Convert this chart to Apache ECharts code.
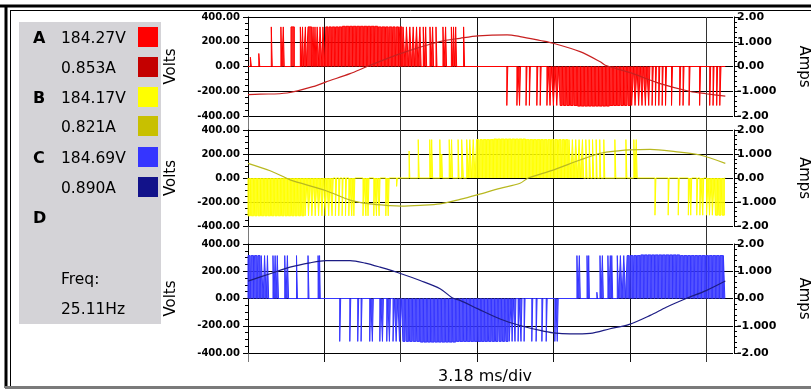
<!DOCTYPE html>
<html>
<head>
<meta charset="utf-8">
<script src="https://cdn.jsdelivr.net/npm/echarts@6/dist/echarts.min.js"></script>
<style>
  html, body { margin: 0; padding: 0; background: #fff; }
  #scope { width: 811px; height: 390px; }
</style>
</head>
<body>
<div id="scope"></div>
<script>
  // time axis in ms, one division = 3.18 ms
  const msPerDiv = 3.18;
  const timeMax = 20.2;
  const traceEnd = 19.88;

  const voltTicks = [-400, -200, 0, 200, 400];
  const voltTickLabels = ['-400.00', '-200.00', '0.00', '200.00', '400.00'];
  const ampTicks = [-2, -1, 0, 1, 2];
  const ampTickLabels = ['-2.00', '-1.000', '0.00', '1.000', '2.00'];

  const phaseNames = ['A', 'B', 'C', 'D'];
  const voltReadings = ['184.27V', '184.17V', '184.69V'];
  const ampReadings = ['0.853A', '0.821A', '0.890A'];
  const freqLabel = 'Freq:';
  const freqReading = '25.11Hz';
  const timebaseLabel = '3.18 ms/div';

  const voltColors = ['#ff0000', '#ffff00', '#3535ff'];
  const ampColors = ['#c40000', '#c8c000', '#12128a'];
  const ampTraceColors = ['#c82020', '#b8b820', '#1c1c84'];

  // pwm pulses: [on ms, off ms, volts]
  const pulsesA = [
    [0.10, 0.14, 75], [0.45, 0.49, 105], [0.97, 1.01, 320], [1.37, 1.41, 320], [1.47, 1.51, 320],
    [1.79, 1.93, 320], [2.18, 2.22, 320], [2.27, 2.31, 320], [2.39, 2.43, 320], [2.50, 2.65, 320],
    [2.71, 2.75, 320], [2.79, 2.83, 320], [2.88, 2.95, 320], [3.00, 3.08, 320], [3.12, 3.20, 320],
    [3.24, 3.33, 320], [3.37, 3.47, 320], [3.51, 3.61, 320], [3.65, 3.76, 320], [3.79, 3.90, 320],
    [3.93, 4.05, 325], [4.08, 4.20, 325], [4.23, 4.35, 325], [4.38, 4.50, 325], [4.53, 4.65, 325],
    [4.68, 4.80, 325], [4.83, 4.95, 325], [4.98, 5.10, 325], [5.13, 5.25, 325], [5.28, 5.40, 325],
    [5.43, 5.55, 320], [5.58, 5.70, 320], [5.73, 5.84, 320], [5.88, 5.99, 320], [6.03, 6.13, 320],
    [6.18, 6.27, 320], [6.32, 6.41, 320], [6.46, 6.54, 320], [6.60, 6.68, 320], [6.74, 6.81, 320],
    [6.88, 6.94, 320], [7.02, 7.08, 320], [7.16, 7.21, 320], [7.30, 7.34, 320], [7.40, 7.44, 320],
    [7.58, 7.62, 320], [7.69, 7.73, 320], [7.83, 7.87, 320], [8.12, 8.16, 320], [8.23, 8.27, 320],
    [8.47, 8.51, 320], [8.56, 8.60, 320], [8.65, 8.69, 320], [8.98, 9.02, 320],
    [10.78, 10.82, -315], [11.20, 11.24, -315], [11.31, 11.35, -315], [11.58, 11.62, -315],
    [11.72, 11.76, -315], [12.03, 12.07, -315], [12.17, 12.21, -315], [12.45, 12.50, -315],
    [12.58, 12.64, -315], [12.72, 12.79, -315], [12.86, 12.94, -315], [13.00, 13.09, -315],
    [13.14, 13.24, -315], [13.28, 13.39, -315], [13.43, 13.54, -315], [13.58, 13.70, -315],
    [13.73, 13.85, -320], [13.88, 14.00, -320], [14.03, 14.15, -320], [14.18, 14.30, -320],
    [14.33, 14.45, -320], [14.48, 14.60, -320], [14.63, 14.75, -320], [14.78, 14.90, -320],
    [14.93, 15.05, -320], [15.08, 15.20, -315], [15.23, 15.35, -315], [15.38, 15.49, -315],
    [15.53, 15.64, -315], [15.68, 15.78, -315], [15.83, 15.92, -315], [15.98, 16.06, -315],
    [16.12, 16.20, -315], [16.27, 16.34, -315], [16.41, 16.47, -315], [16.55, 16.61, -315],
    [16.69, 16.74, -315], [16.83, 16.88, -315], [16.97, 17.01, -315], [17.11, 17.15, -315],
    [17.25, 17.29, -315], [17.39, 17.43, -315], [17.64, 17.68, -315], [17.98, 18.02, -315],
    [18.12, 18.16, -315], [18.37, 18.41, -315], [18.81, 18.85, -315], [19.23, 19.27, -315],
    [19.37, 19.41, -315], [19.52, 19.56, -315], [19.65, 19.70, -315]
  ];

  const pulsesB = [
    [0.00, 0.10, -315], [0.14, 0.24, -315], [0.28, 0.38, -315], [0.42, 0.52, -315], [0.56, 0.66, -315],
    [0.70, 0.80, -315], [0.84, 0.94, -315], [0.98, 1.08, -315], [1.12, 1.22, -315], [1.26, 1.36, -315],
    [1.40, 1.50, -315], [1.54, 1.64, -315], [1.68, 1.78, -315], [1.82, 1.92, -315], [1.96, 2.05, -315],
    [2.10, 2.19, -315], [2.24, 2.33, -315], [2.38, 2.46, -315], [2.52, 2.60, -315], [2.66, 2.74, -315],
    [2.80, 2.87, -315], [2.94, 3.01, -315], [3.08, 3.14, -315], [3.22, 3.28, -315], [3.36, 3.42, -315],
    [3.50, 3.55, -315], [3.64, 3.69, -315], [3.78, 3.83, -315], [3.92, 3.96, -315], [4.06, 4.10, -315],
    [4.20, 4.24, -315], [4.32, 4.37, -315], [4.41, 4.45, -315], [4.79, 4.83, -315], [4.91, 4.95, -315],
    [5.00, 5.04, -315], [5.24, 5.28, -315], [5.35, 5.39, -315], [5.46, 5.50, -315], [5.74, 5.78, -315],
    [5.84, 5.88, -315], [6.19, 6.22, -70],
    [6.71, 6.74, 225], [7.09, 7.13, 320], [7.57, 7.61, 320], [7.65, 7.69, 320], [7.99, 8.03, 320],
    [8.07, 8.10, 200], [8.38, 8.42, 320], [8.48, 8.52, 320], [8.75, 8.79, 320], [8.90, 8.97, 320],
    [9.11, 9.17, 320], [9.24, 9.31, 320], [9.38, 9.46, 320], [9.52, 9.61, 320], [9.66, 9.76, 320],
    [9.80, 9.91, 320], [9.94, 10.06, 320], [10.09, 10.21, 320], [10.24, 10.36, 325], [10.39, 10.51, 325],
    [10.54, 10.66, 325], [10.69, 10.81, 325], [10.84, 10.96, 325], [10.99, 11.11, 325], [11.14, 11.26, 325],
    [11.29, 11.41, 325], [11.44, 11.56, 325], [11.59, 11.71, 320], [11.74, 11.86, 320], [11.89, 12.01, 320],
    [12.04, 12.16, 320], [12.19, 12.30, 320], [12.34, 12.45, 320], [12.49, 12.60, 320], [12.64, 12.75, 320],
    [12.79, 12.89, 320], [12.94, 13.04, 320], [13.09, 13.18, 320], [13.23, 13.32, 320], [13.37, 13.45, 320],
    [13.51, 13.58, 320], [13.65, 13.72, 320], [13.79, 13.85, 320], [13.93, 13.98, 320], [14.07, 14.12, 320],
    [14.21, 14.26, 320], [14.35, 14.40, 320], [14.50, 14.54, 320], [14.65, 14.69, 320], [14.82, 14.86, 320],
    [15.28, 15.32, 320], [15.74, 15.78, 320], [16.07, 16.11, 320], [16.17, 16.21, 320],
    [16.95, 16.99, -310], [17.50, 17.54, -310], [17.92, 17.96, -310], [18.34, 18.38, -310],
    [18.44, 18.48, -310], [18.69, 18.73, -310], [18.82, 18.86, -310], [18.94, 18.98, -310],
    [19.10, 19.16, -310], [19.22, 19.29, -310], [19.34, 19.42, -310], [19.47, 19.56, -310],
    [19.61, 19.70, -310], [19.75, 19.84, -310]
  ];

  const pulsesC = [
    [0.00, 0.09, 315], [0.13, 0.23, 315], [0.27, 0.37, 315], [0.41, 0.50, 315], [0.55, 0.63, 315],
    [0.69, 0.76, 315], [0.81, 0.86, 315], [1.04, 1.08, 315], [1.13, 1.17, 315], [1.22, 1.27, 315],
    [1.53, 1.58, 315], [1.64, 1.69, 315], [2.02, 2.06, 315], [2.50, 2.54, 315], [2.92, 2.96, 315],
    [2.98, 3.01, 315],
    [3.82, 3.86, -315], [4.24, 4.28, -315], [4.57, 4.61, -315], [4.71, 4.75, -315], [5.07, 5.11, -315],
    [5.18, 5.22, -315], [5.49, 5.53, -315], [5.60, 5.64, -315], [5.78, 5.82, -315], [5.89, 5.93, -315],
    [6.04, 6.10, -315], [6.17, 6.24, -315], [6.31, 6.39, -315], [6.45, 6.54, -315], [6.59, 6.69, -315],
    [6.73, 6.84, -315], [6.88, 6.99, -315], [7.03, 7.15, -315], [7.18, 7.30, -320], [7.33, 7.45, -320],
    [7.48, 7.60, -320], [7.63, 7.75, -320], [7.78, 7.90, -320], [7.93, 8.05, -320], [8.08, 8.20, -320],
    [8.23, 8.35, -320], [8.38, 8.50, -320], [8.53, 8.65, -320], [8.68, 8.80, -315], [8.83, 8.95, -315],
    [8.98, 9.10, -315], [9.13, 9.25, -315], [9.28, 9.40, -315], [9.43, 9.55, -315], [9.58, 9.70, -315],
    [9.72, 9.84, -315], [9.87, 9.98, -315], [10.02, 10.13, -315], [10.17, 10.27, -315], [10.31, 10.41, -315],
    [10.46, 10.55, -315], [10.60, 10.69, -315], [10.74, 10.83, -315], [10.88, 10.96, -315], [11.00, 11.05, -315],
    [11.12, 11.16, -315], [11.25, 11.29, -315], [11.37, 11.41, -315], [11.50, 11.54, -315], [11.82, 11.86, -315],
    [12.00, 12.04, -315], [12.24, 12.28, -315], [12.42, 12.46, -315], [12.78, 12.82, -315], [12.88, 12.92, -315],
    [13.70, 13.74, 315], [13.80, 13.84, 315], [14.12, 14.16, 315], [14.19, 14.22, 315], [14.53, 14.56, 46],
    [14.66, 14.70, 315], [14.76, 14.80, 315], [14.99, 15.03, 315], [15.09, 15.13, 315], [15.15, 15.19, 315],
    [15.38, 15.44, 315], [15.51, 15.58, 315], [15.65, 15.73, 315], [15.79, 15.88, 315], [15.93, 16.03, 315],
    [16.07, 16.18, 315], [16.21, 16.33, 315], [16.36, 16.48, 320], [16.51, 16.63, 320], [16.66, 16.78, 320],
    [16.81, 16.93, 320], [16.96, 17.08, 320], [17.11, 17.23, 320], [17.26, 17.38, 320], [17.41, 17.53, 320],
    [17.56, 17.68, 320], [17.71, 17.83, 320], [17.86, 17.98, 320], [18.01, 18.13, 315], [18.16, 18.28, 315],
    [18.31, 18.43, 315], [18.46, 18.58, 315], [18.61, 18.73, 315], [18.76, 18.88, 315], [18.91, 19.03, 315],
    [19.06, 19.18, 315], [19.21, 19.33, 315], [19.36, 19.48, 315], [19.51, 19.63, 315], [19.66, 19.78, 315],
    [19.80, 19.86, 315]
  ];

  // phase currents [ms, A]
  const currentA = [
    [0.00, -1.14], [0.50, -1.12], [1.63, -1.07], [2.79, -0.79], [3.25, -0.62], [4.25, -0.29],
    [4.96, 0.00], [6.38, 0.53], [8.00, 1.01], [8.83, 1.14], [9.58, 1.24], [10.79, 1.28],
    [11.33, 1.21], [12.17, 1.05], [12.71, 0.94], [13.83, 0.60], [14.67, 0.19], [14.88, 0.05],
    [15.88, -0.24], [17.17, -0.69], [18.42, -1.01], [19.08, -1.10], [19.88, -1.20]
  ];
  const currentB = [
    [0.00, 0.61], [0.92, 0.30], [1.46, 0.06], [1.75, -0.08], [3.25, -0.53], [4.25, -0.92],
    [5.08, -1.08], [5.92, -1.15], [6.38, -1.17], [7.17, -1.14], [8.00, -1.08], [8.83, -0.89],
    [9.58, -0.69], [10.50, -0.43], [11.33, -0.22], [11.67, 0.00], [12.71, 0.33], [13.83, 0.75],
    [14.67, 1.03], [15.50, 1.14], [15.88, 1.17], [16.75, 1.19], [17.79, 1.10], [18.83, 0.96],
    [19.88, 0.61]
  ];
  const currentC = [
    [0.00, 0.64], [0.92, 0.91], [1.75, 1.15], [2.58, 1.31], [3.25, 1.39], [4.25, 1.39],
    [4.88, 1.30], [5.50, 1.15], [6.38, 0.91], [7.17, 0.66], [8.00, 0.36], [8.50, 0.03],
    [8.83, -0.07], [9.58, -0.38], [10.50, -0.75], [11.33, -0.99], [12.17, -1.17], [12.71, -1.26],
    [13.42, -1.30], [14.25, -1.28], [15.08, -1.11], [15.88, -0.95], [16.75, -0.62], [17.42, -0.32],
    [18.25, 0.00], [19.08, 0.29], [19.88, 0.64]
  ];

  const panels = [
    { pulses: pulsesA, current: currentA, top: 17, height: 99 },
    { pulses: pulsesB, current: currentB, top: 130, height: 96 },
    { pulses: pulsesC, current: currentC, top: 244, height: 109 }
  ];

  function pulseTrace(pulses) {
    const pts = [[0, 0]];
    pulses.forEach(function (p) {
      pts.push([p[0], 0], [p[0], p[2]], [p[1], p[2]], [p[1], 0]);
    });
    pts.push([traceEnd, 0]);
    return pts;
  }

  const font = '"DejaVu Sans", Verdana, sans-serif';

  let grids = [{ left: 248, top: 17, width: 485, height: 345, outerBoundsMode: 'none' }];
  let xAxes = [{
    type: 'value', gridIndex: 0, min: 0, max: timeMax, interval: msPerDiv,
    axisLine: { show: false }, axisTick: { show: false }, axisLabel: { show: false },
    splitLine: {
      show: true,
      lineStyle: { width: 1, color: ['#7a7a7a', '#111', '#333', '#111', '#111', '#111', '#333', 'rgba(0,0,0,0)'] }
    }
  }];
  let yAxes = [{ type: 'value', gridIndex: 0, min: 0, max: 1, show: false }];
  let series = [];

  panels.forEach(function (p, i) {
    grids.push({ left: 248, top: p.top, width: 485, height: p.height, outerBoundsMode: 'none' });
    xAxes.push({ type: 'value', gridIndex: i + 1, min: 0, max: timeMax, interval: msPerDiv, show: false });
    yAxes.push({
      type: 'value', gridIndex: i + 1, position: 'left', offset: 5,
      min: voltTicks[0], max: voltTicks[voltTicks.length - 1], interval: 200,
      name: 'Volts', nameLocation: 'middle', nameRotate: 90, nameGap: 64,
      nameTextStyle: { fontFamily: font, fontSize: 15, color: '#000' },
      axisLine: { show: true, lineStyle: { color: '#000', width: 1 } },
      axisTick: { show: true, length: 5, lineStyle: { color: '#000' } },
      minorTick: { show: true, splitNumber: 4, length: 3, lineStyle: { color: '#000' } },
      axisLabel: {
        margin: 3, color: '#000', fontFamily: font, fontSize: 10, fontWeight: 'bold',
        formatter: function (v) { return voltTickLabels[voltTicks.indexOf(v)]; }
      },
      splitLine: { show: true, lineStyle: { color: '#000', width: 1 } }
    });
    yAxes.push({
      type: 'value', gridIndex: i + 1, position: 'right', offset: 1,
      min: ampTicks[0], max: ampTicks[ampTicks.length - 1], interval: 1,
      name: 'Amps', nameLocation: 'middle', nameRotate: -90, nameGap: 62,
      nameTextStyle: { fontFamily: font, fontSize: 15, color: '#000' },
      axisLine: { show: true, lineStyle: { color: '#000', width: 1 } },
      axisTick: { show: true, length: 5, lineStyle: { color: '#000' } },
      minorTick: { show: true, splitNumber: 5, length: 3, lineStyle: { color: '#000' } },
      axisLabel: {
        margin: 3, color: '#000', fontFamily: font, fontSize: 11, fontWeight: 'bold',
        formatter: function (v) { return ampTickLabels[ampTicks.indexOf(v)]; }
      },
      splitLine: { show: false }
    });
    series.push({
      type: 'line', xAxisIndex: i + 1, yAxisIndex: 2 * i + 1,
      data: pulseTrace(p.pulses), showSymbol: false, clip: true,
      lineStyle: { color: voltColors[i], width: 1 },
      areaStyle: { color: voltColors[i], opacity: 0.85 }, z: 2
    });
    series.push({
      type: 'line', xAxisIndex: i + 1, yAxisIndex: 2 * i + 2,
      data: p.current, showSymbol: false, smooth: 0.3, clip: true,
      lineStyle: { color: ampTraceColors[i], width: 1.2 }, z: 3
    });
  });

  // reading panel on the left and the frame
  let graphics = [
    { type: 'line', shape: { x1: 0, y1: 6, x2: 811, y2: 6 }, style: { stroke: '#000', lineWidth: 3 } },
    { type: 'line', shape: { x1: 6, y1: 5, x2: 6, y2: 388 }, style: { stroke: '#000', lineWidth: 3 } },
    { type: 'line', shape: { x1: 10, y1: 10.5, x2: 811, y2: 10.5 }, style: { stroke: '#000', lineWidth: 1 } },
    { type: 'line', shape: { x1: 10.5, y1: 10, x2: 10.5, y2: 386 }, style: { stroke: '#000', lineWidth: 1 } },
    { type: 'line', shape: { x1: 5, y1: 387.5, x2: 811, y2: 387.5 }, style: { stroke: '#7a7a7a', lineWidth: 3 } },
    { type: 'rect', shape: { x: 19, y: 22, width: 142, height: 302 }, style: { fill: '#d4d3d7' } }
  ];

  function addText(txt, x, y, f, align) {
    graphics.push({
      type: 'text', x: x, y: y,
      style: {
        text: txt, font: f, fill: '#000',
        align: align || 'left', textAlign: align || 'left',
        verticalAlign: 'middle', textVerticalAlign: 'middle'
      }
    });
  }

  const rowY = [39, 69, 99, 128, 159, 189];
  const bold16 = 'bold 16px ' + font;
  const reg15 = '15.5px ' + font;
  for (let k = 0; k < 3; k++) {
    addText(phaseNames[k], 33, rowY[2 * k], bold16);
    addText(voltReadings[k], 61, rowY[2 * k], reg15);
    addText(ampReadings[k], 61, rowY[2 * k + 1], reg15);
    graphics.push({ type: 'rect', shape: { x: 138, y: rowY[2 * k] - 12, width: 20, height: 20 }, style: { fill: voltColors[k] } });
    graphics.push({ type: 'rect', shape: { x: 138, y: rowY[2 * k + 1] - 12, width: 20, height: 20 }, style: { fill: ampColors[k] } });
  }
  addText(phaseNames[3], 33, 219, bold16);
  addText(freqLabel, 61, 280, reg15);
  addText(freqReading, 61, 310, reg15);
  addText(timebaseLabel, 485, 377, '16px ' + font, 'center');

  const chart = echarts.init(document.getElementById('scope'));
  chart.setOption({
    animation: false,
    backgroundColor: '#fff',
    grid: grids,
    xAxis: xAxes,
    yAxis: yAxes,
    series: series,
    graphic: graphics
  });
</script>
</body>
</html>
